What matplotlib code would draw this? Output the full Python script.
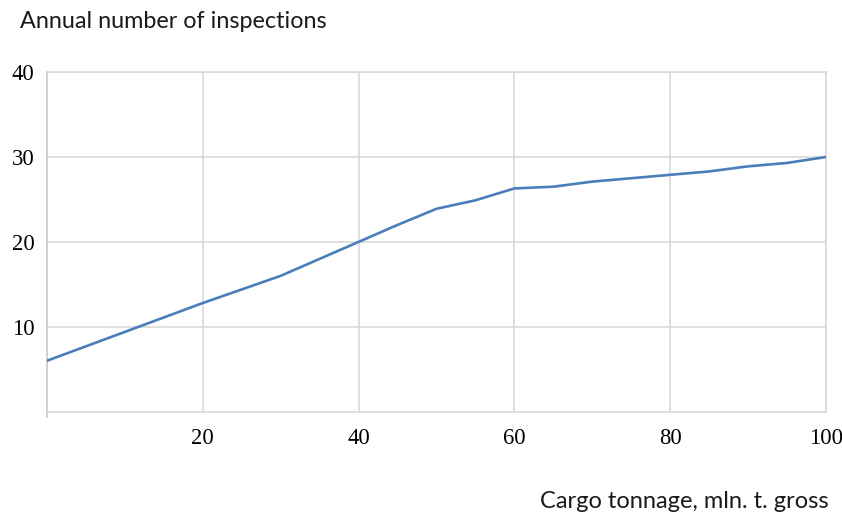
import numpy as np
import matplotlib
matplotlib.use('Agg')
import matplotlib.pyplot as plt

# values
tonnage = [0, 5, 10, 15, 20, 25, 30, 35, 40, 45, 50, 55, 60, 65, 70, 75, 80, 85, 90, 95, 100]
inspections = [6.0, 7.7, 9.4, 11.1, 12.8, 14.4, 16.0, 18.0, 20.0, 22.0, 23.9, 24.9,
               26.3, 26.5, 27.1, 27.5, 27.9, 28.3, 28.9, 29.3, 30.0]
xticks = [20, 40, 60, 80, 100]
yticks = [10, 20, 30, 40]

grid_col = '#d9d9d9'
line_col = '#4a7ebb'

fig = plt.figure(figsize=(8.42, 5.15), dpi=100)
ax = fig.add_axes([0.0558, 0.2006, 0.9252, 0.6594])

ax.plot(tonnage, inspections, color=line_col, lw=1.9, solid_capstyle='round',
        solid_joinstyle='round', zorder=3)

ax.set_xlim(0, 100)
ax.set_ylim(0, 40)
ax.set_xticks(xticks)
ax.set_yticks(yticks)
ax.grid(True, color=grid_col, lw=1.2)
ax.set_axisbelow(True)

for side in ['top', 'right', 'bottom', 'left']:
    ax.spines[side].set_color(grid_col)
    ax.spines[side].set_linewidth(1.2)
ax.spines['left'].set_color('#c8c8c8')
ax.spines['left'].set_bounds(-0.6, 40)

ax.tick_params(length=0, labelsize=16.3, colors='black')
ax.tick_params(axis='y', pad=9)
ax.tick_params(axis='x', pad=12)
for lab in ax.get_xticklabels() + ax.get_yticklabels():
    lab.set_fontfamily('Liberation Serif')

fig.text(0.024, 0.958, 'Annual number of inspections', fontsize=16.8,
         family='Lato', ha='left', va='center', color='#1a1a1a')
fig.text(0.984, 0.027, 'Cargo tonnage, mln. t. gross', fontsize=17,
         family='Lato', ha='right', va='center', color='#1a1a1a')

fig.savefig('out.png', dpi=100)
